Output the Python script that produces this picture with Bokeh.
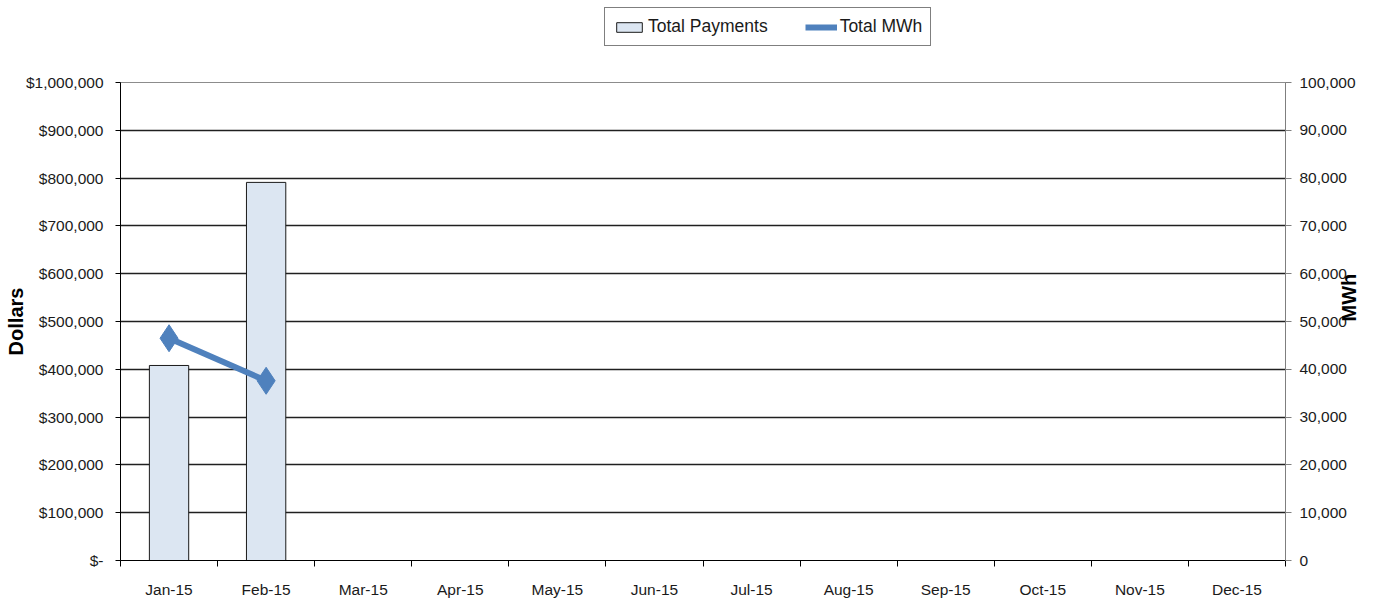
import math
from bokeh.plotting import figure
from bokeh.layouts import column
from bokeh.models import (LinearAxis, Range1d, FixedTicker, NumeralTickFormatter,
                          Legend, LegendItem)
from bokeh.embed import file_html
from bokeh.resources import INLINE

# ---- data ----
months = ["Jan-15", "Feb-15", "Mar-15", "Apr-15", "May-15", "Jun-15",
          "Jul-15", "Aug-15", "Sep-15", "Oct-15", "Nov-15", "Dec-15"]
payments = [408000, 791000]          # Total Payments (Dollars)
mwh = [46500, 37600]                 # Total MWh
dollar_ticks = [0, 100000, 200000, 300000, 400000, 500000,
                600000, 700000, 800000, 900000, 1000000]
mwh_ticks = [0, 10000, 20000, 30000, 40000, 50000,
             60000, 70000, 80000, 90000, 100000]

FONT = "Liberation Sans"
TXT = "#1a1a1a"
BAR_FILL = "#dce6f2"
BAR_LINE = "#1a1a1a"
LINE_C = "#4f81bd"

centers = [i + 0.5 for i in range(len(months))]
bounds = list(range(len(months) + 1))

# ---------------- main chart ----------------
p = figure(width=1379, height=540, output_backend="svg", toolbar_location=None,
           x_range=Range1d(0, len(months)), y_range=Range1d(0, dollar_ticks[-1]),
           min_border_left=120, min_border_right=94, min_border_top=22,
           min_border_bottom=36, background_fill_color="white",
           border_fill_color="white", outline_line_color="#8c8c8c")
p.extra_y_ranges = {"mwh": Range1d(0, mwh_ticks[-1])}

p.xgrid.visible = False
p.ygrid.ticker = FixedTicker(ticks=dollar_ticks[1:-1])
p.ygrid.grid_line_color = "#202020"
p.ygrid.grid_line_width = 1.3

bars = p.vbar(x=centers[:len(payments)], top=payments, bottom=0, width=0.405,
              fill_color=BAR_FILL, line_color=BAR_LINE, line_width=1)
ln = p.line(centers[:len(mwh)], mwh, y_range_name="mwh",
            line_color=LINE_C, line_width=6)
dots = p.scatter(centers[:len(mwh)], mwh, y_range_name="mwh", marker="diamond",
                 size=27, fill_color=LINE_C, line_color=LINE_C)

# left axis
ly = p.yaxis[0]
ly.ticker = FixedTicker(ticks=dollar_ticks)
ly.formatter = NumeralTickFormatter(format="$0,0")
ly.major_label_overrides = {0: "$-"}
ly.major_tick_out = 5
ly.major_tick_in = 0
ly.minor_tick_line_color = None
ly.axis_line_color = "black"
ly.major_tick_line_color = "black"
ly.major_label_standoff = 12
ly.major_label_text_font = FONT
ly.major_label_text_font_size = "15.5px"
ly.major_label_text_color = TXT
ly.axis_label = "Dollars"
ly.axis_label_text_font = FONT
ly.axis_label_text_font_style = "bold"
ly.axis_label_text_font_size = "20px"
ly.axis_label_text_color = "black"
ly.axis_label_standoff = -4

# right axis
ry = LinearAxis(y_range_name="mwh", ticker=FixedTicker(ticks=mwh_ticks),
                formatter=NumeralTickFormatter(format="0,0"))
ry.major_tick_out = 6
ry.major_tick_in = 0
ry.minor_tick_line_color = None
ry.axis_line_color = "#7f7f7f"
ry.major_tick_line_color = "#7f7f7f"
ry.major_label_standoff = 8
ry.major_label_text_font = FONT
ry.major_label_text_font_size = "15.5px"
ry.major_label_text_color = TXT
ry.axis_label = "MWh"
ry.axis_label_text_font = FONT
ry.axis_label_text_font_style = "bold"
ry.axis_label_text_font_size = "20px"
ry.axis_label_text_color = "black"
ry.axis_label_standoff = -10
ry.axis_label_orientation = math.pi / 2
p.add_layout(ry, "right")

# bottom axis
bx = p.xaxis[0]
bx.ticker = FixedTicker(ticks=centers, minor_ticks=bounds)
bx.major_label_overrides = {c: m for c, m in zip(centers, months)}
bx.major_tick_line_color = None
bx.major_tick_out = 0
bx.major_tick_in = 0
bx.minor_tick_out = 6
bx.minor_tick_in = 0
bx.minor_tick_line_color = "black"
bx.axis_line_color = "black"
bx.major_label_standoff = 14
bx.major_label_text_font = FONT
bx.major_label_text_font_size = "15.5px"
bx.major_label_text_color = TXT

# ---------------- legend strip ----------------
# hidden copies of the series supply the legend swatches
pl = figure(width=1379, height=60, output_backend="svg", toolbar_location=None,
            x_range=Range1d(100, 101), y_range=Range1d(-2, -1),
            x_axis_location=None, y_axis_location=None,
            min_border=0, outline_line_color=None,
            background_fill_color="white", border_fill_color="white")
pl.grid.visible = False
lb = pl.vbar(x=centers[:len(payments)], top=payments, bottom=0, width=0.405,
             fill_color=BAR_FILL, line_color=BAR_LINE, line_width=1, visible=False)
ll = pl.line(centers[:len(mwh)], mwh, line_color=LINE_C, line_width=6, visible=False)
ls = pl.scatter(centers[:len(mwh)], mwh, marker="diamond", size=27,
                fill_color=LINE_C, line_color=LINE_C, visible=False)

legend = Legend(items=[LegendItem(label="Total Payments", renderers=[lb]),
                       LegendItem(label="Total MWh", renderers=[ll, ls])],
                orientation="horizontal", location=(484, 14),
                label_text_font=FONT, label_text_font_size="17.5px",
                label_text_color=TXT, border_line_color="black", border_line_width=1,
                padding=8, spacing=37, glyph_width=32, glyph_height=12,
                label_standoff=3, margin=0, background_fill_color="white",
                background_fill_alpha=1)
pl.add_layout(legend)

page = column(pl, p, spacing=0)
open("out.html", "w").write(file_html(page, INLINE))
